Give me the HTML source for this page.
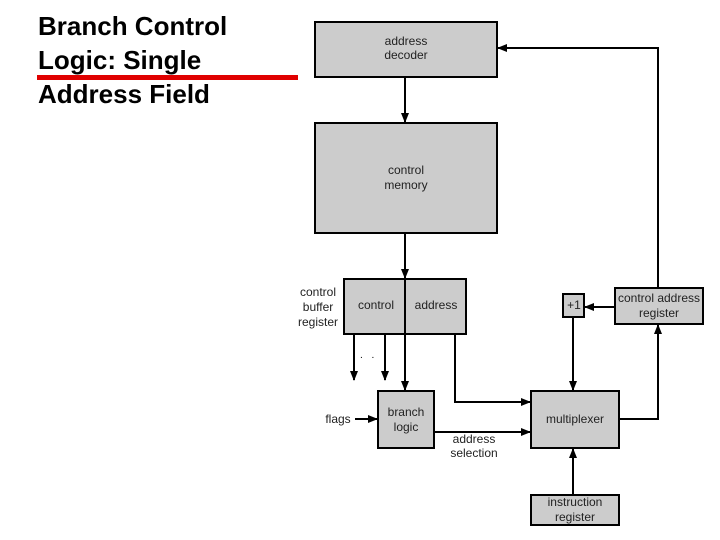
<!DOCTYPE html>
<html><head><style>
body{margin:0;background:#fff;}
.t{position:absolute;left:38px;top:9px;font:bold 26px/34px "Liberation Sans",sans-serif;color:#000;}
</style></head><body>
<div style="position:relative;width:720px;height:540px;overflow:hidden">
<div class="t">Branch Control<br>Logic: Single<br>Address Field</div>
<div style="position:absolute;left:37px;top:75px;width:261px;height:5px;background:#e00000"></div>
<svg width="720" height="540" style="position:absolute;left:0;top:0" font-family="Liberation Sans, sans-serif" font-size="12">
<defs><marker id="a" markerWidth="10" markerHeight="8" refX="9" refY="4" orient="auto" markerUnits="userSpaceOnUse"><path d="M0,0 L10,4 L0,8 z" fill="#000"/></marker></defs>
<g fill="#cccccc" stroke="#000" stroke-width="2">
<rect x="315" y="22" width="182" height="55"/>
<rect x="315" y="123" width="182" height="110"/>
<rect x="344" y="279" width="122" height="55"/>
<rect x="563" y="294" width="21" height="23"/>
<rect x="615" y="288" width="88" height="36"/>
<rect x="378" y="391" width="56" height="57"/>
<rect x="531" y="391" width="88" height="57"/>
<rect x="531" y="495" width="88" height="30"/>
</g>
<g stroke="#000" stroke-width="2" fill="none" marker-end="url(#a)">
<line x1="405" y1="77" x2="405" y2="122"/>
<line x1="405" y1="233" x2="405" y2="278"/>
<line x1="405" y1="279" x2="405" y2="390"/>
<line x1="354" y1="334" x2="354" y2="380"/>
<line x1="385" y1="334" x2="385" y2="380"/>
<polyline points="455,334 455,402 530,402"/>
<line x1="434" y1="432" x2="530" y2="432"/>
<line x1="355" y1="419" x2="377" y2="419"/>
<line x1="573" y1="317" x2="573" y2="390"/>
<line x1="615" y1="307" x2="585" y2="307"/>
<polyline points="619,419 658,419 658,325"/>
<polyline points="658,288 658,48 498,48"/>
<line x1="573" y1="495" x2="573" y2="449"/>
</g>
<text x="360" y="358" font-size="10" letter-spacing="3">. . .</text>
<g text-anchor="middle" fill="#222">
<text x="406" y="45">address</text><text x="406" y="59">decoder</text>
<text x="406" y="174">control</text><text x="406" y="189">memory</text>
<text x="376" y="309">control</text><text x="436" y="309">address</text>
<text x="318" y="296">control</text><text x="318" y="311">buffer</text><text x="318" y="326">register</text>
<text x="574" y="309">+1</text>
<text x="659" y="302">control address</text><text x="659" y="317">register</text>
<text x="406" y="416">branch</text><text x="406" y="431">logic</text>
<text x="338" y="423">flags</text>
<text x="575" y="423">multiplexer</text>
<text x="474" y="443">address</text><text x="474" y="457">selection</text>
<text x="575" y="506">instruction</text><text x="575" y="521">register</text>
</g>
</svg>
</div>
</body></html>
